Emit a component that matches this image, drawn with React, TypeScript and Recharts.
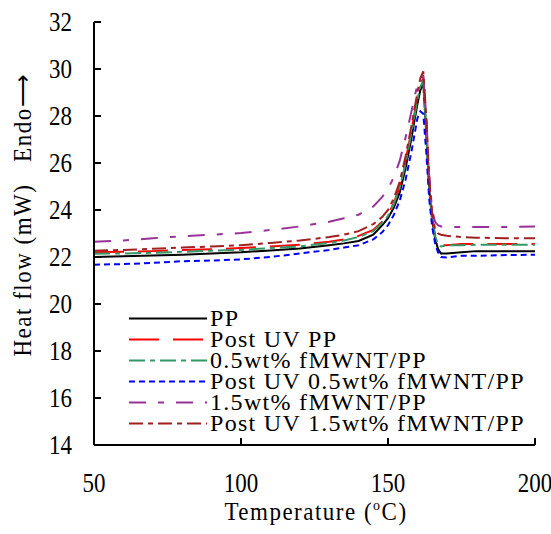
import { LineChart, Line, XAxis, YAxis, Legend, Label } from "recharts";

// temperature grid (°C)
const temperature = [
  50, 60, 70, 80, 90, 100, 110, 120, 130, 135, 140, 145, 148, 150, 152, 154, 156,
  158, 159, 160, 161, 162, 163, 164, 165, 166, 167, 168, 170, 175, 180, 190, 200,
];

// heat flow (mW)
const pp = [
  22.0, 22.03, 22.06, 22.1, 22.15, 22.2, 22.28, 22.36, 22.5, 22.58, 22.68, 22.95, 23.35,
  23.65, 24.1, 24.75, 25.8, 27.07, 27.8, 28.5, 29.1, 29.4, 27.3, 24.9, 23.6, 22.8, 22.35,
  22.15, 22.15, 22.2, 22.25, 22.25, 22.25,
];
const postUvPp = [
  22.2, 22.22, 22.25, 22.3, 22.33, 22.38, 22.45, 22.52, 22.65, 22.75, 22.9, 23.15, 23.5,
  23.8, 24.3, 25.0, 26.1, 27.4, 28.1, 28.8, 29.35, 29.6, 27.8, 25.2, 23.7, 22.95, 22.6,
  22.5, 22.5, 22.55, 22.55, 22.55, 22.55,
];
const mwnt05 = [
  22.14, 22.15, 22.18, 22.22, 22.27, 22.3, 22.38, 22.45, 22.6, 22.7, 22.85, 23.1, 23.45,
  23.75, 24.25, 24.95, 26.0, 27.3, 28.0, 28.7, 29.25, 29.5, 27.5, 25.0, 23.6, 22.9, 22.55,
  22.45, 22.5, 22.5, 22.52, 22.52, 22.52,
];
const postUvMwnt05 = [
  21.67, 21.7, 21.75, 21.82, 21.85, 21.9, 22.0, 22.15, 22.3, 22.4, 22.5, 22.75, 23.05,
  23.35, 23.8, 24.4, 25.3, 26.5, 27.2, 27.9, 28.2, 28.1, 26.5, 24.5, 23.3, 22.6, 22.2,
  22.0, 21.98, 22.05, 22.05, 22.08, 22.1,
];
const mwnt15 = [
  22.65, 22.7, 22.8, 22.88, 22.95, 23.02, 23.15, 23.3, 23.5, 23.65, 23.8, 24.15, 24.55,
  24.9, 25.4, 26.1, 27.1, 28.2, 28.8, 29.3, 29.6, 29.7, 28.0, 25.5, 24.0, 23.5, 23.35,
  23.3, 23.28, 23.28, 23.28, 23.28, 23.3,
];
const postUvMwnt15 = [
  22.27, 22.3, 22.35, 22.4, 22.45, 22.5, 22.6, 22.7, 22.85, 22.95, 23.1, 23.4, 23.7,
  24.0, 24.5, 25.2, 26.3, 27.6, 28.3, 29.0, 29.6, 29.9, 28.0, 25.4, 23.9, 23.2, 23.0,
  22.95, 22.9, 22.85, 22.82, 22.8, 22.8,
];

const xTicks = [50, 100, 150, 200];
const yTicks = [14, 16, 18, 20, 22, 24, 26, 28, 30, 32];

const data = temperature.map((t, i) => ({
  t,
  pp: pp[i],
  postUvPp: postUvPp[i],
  mwnt05: mwnt05[i],
  postUvMwnt05: postUvMwnt05[i],
  mwnt15: mwnt15[i],
  postUvMwnt15: postUvMwnt15[i],
}));

const SERIES = [
  { key: "pp", name: "PP", color: "#000000", dash: undefined },
  { key: "postUvPp", name: "Post UV PP", color: "#ff0000", dash: "30 14" },
  { key: "mwnt05", name: "0.5wt% fMWNT/PP", color: "#339966", dash: "16 5 5 5" },
  { key: "postUvMwnt05", name: "Post UV 0.5wt% fMWNT/PP", color: "#0000ff", dash: "6 4" },
  { key: "mwnt15", name: "1.5wt% fMWNT/PP", color: "#993399", dash: "17 12 6 12" },
  { key: "postUvMwnt15", name: "Post UV 1.5wt% fMWNT/PP", color: "#a02020", dash: "14 5 5 5" },
];

const FONT = '"Liberation Serif", "Times New Roman", serif';

function XTick({ x, y, payload }: any) {
  return (
    <g>
      <line x1={x} x2={x} y1={y} y2={y - 7} stroke="#000" strokeWidth={2} />
      <text
        transform={`translate(${x},${y + 47}) scale(1,1.15)`}
        textAnchor="middle"
        fontSize={23}
        fontFamily={FONT}
        fill="#000"
      >
        {payload.value}
      </text>
    </g>
  );
}

function YTick({ x, y, payload }: any) {
  return (
    <g>
      <line x1={x} x2={x + 7} y1={y} y2={y} stroke="#000" strokeWidth={2} />
      <text
        transform={`translate(${x - 22},${y + 9}) scale(1,1.15)`}
        textAnchor="end"
        fontSize={23}
        fontFamily={FONT}
        fill="#000"
      >
        {payload.value}
      </text>
    </g>
  );
}

function LegendBox() {
  return (
    <div style={{ fontFamily: FONT, fontSize: 24, letterSpacing: 1.3, color: "#000" }}>
      {SERIES.map((s) => (
        <div key={s.key} style={{ display: "flex", alignItems: "center", height: 21, whiteSpace: "nowrap" }}>
          <svg width={84} height={21} style={{ display: "block" }}>
            <line
              x1={3}
              x2={81}
              y1={10.5}
              y2={10.5}
              stroke={s.color}
              strokeWidth={2}
              strokeDasharray={s.dash}
            />
          </svg>
          <span style={{ lineHeight: "21px" }}>{s.name}</span>
        </div>
      ))}
    </div>
  );
}

export default function App() {
  return (
    <div style={{ position: "absolute", left: 0, top: 0, width: 551, height: 534, background: "#fff" }}>
      <LineChart
        width={551}
        height={534}
        data={data}
        margin={{ top: 22, right: 16, left: 0, bottom: 0 }}
      >
        <XAxis
          dataKey="t"
          type="number"
          domain={[50, 200]}
          ticks={xTicks}
          height={89}
          tickSize={0}
          tickMargin={0}
          tickLine={false}
          axisLine={{ stroke: "#000", strokeWidth: 2 }}
          tick={<XTick />}
        >
          <Label
            content={() => (
              <text
                transform="translate(316,520) scale(1,1.1)"
                textAnchor="middle"
                fontSize={23}
                fontFamily={FONT}
                letterSpacing={1.5}
                fill="#000"
              >
                Temperature (
                <tspan fontSize={14} dy={-9}>o</tspan>
                <tspan dy={9}>C)</tspan>
              </text>
            )}
          />
        </XAxis>
        <YAxis
          type="number"
          domain={[14, 32]}
          ticks={yTicks}
          width={94}
          tickSize={0}
          tickMargin={0}
          tickLine={false}
          axisLine={{ stroke: "#000", strokeWidth: 2 }}
          tick={<YTick />}
        >
          <Label
            content={() => (
              <text
                transform="translate(31, 215) rotate(-90) scale(1,1.1)"
                textAnchor="middle"
                fontSize={23}
                fontFamily={FONT}
                letterSpacing={1.5}
                fill="#000"
                style={{ whiteSpace: "pre" }}
              >
                {"Heat flow (mW)   Endo\u27F6"}
              </text>
            )}
          />
        </YAxis>
        <Legend
          layout="vertical"
          align="center"
          verticalAlign="middle"
          wrapperStyle={{ left: 126, top: 308, width: "auto" }}
          content={<LegendBox />}
        />
        {SERIES.map((s) => (
          <Line
            key={s.key}
            dataKey={s.key}
            name={s.name}
            type="linear"
            stroke={s.color}
            strokeWidth={2}
            strokeDasharray={s.dash}
            dot={false}
            activeDot={false}
            isAnimationActive={false}
          />
        ))}
      </LineChart>
    </div>
  );
}
